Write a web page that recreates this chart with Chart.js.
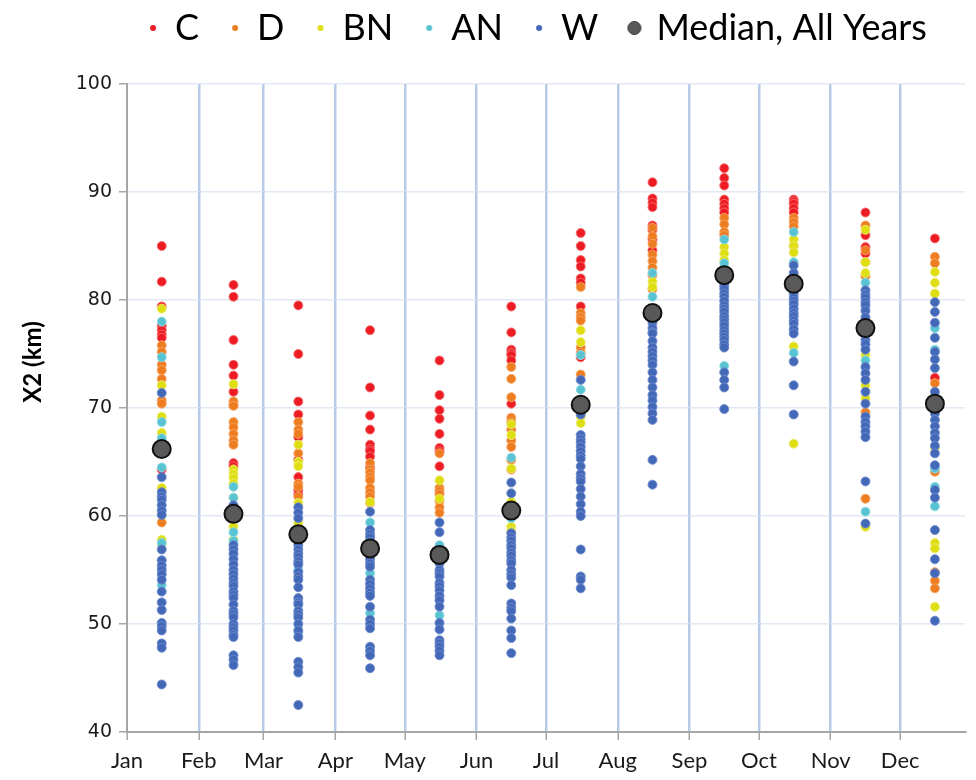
<!DOCTYPE html>
<html>
<head>
<meta charset="utf-8">
<script src="https://cdn.jsdelivr.net/npm/chart.js@4.4.1/dist/chart.umd.min.js"></script>
<style>
  html, body { margin: 0; padding: 0; background: #ffffff; }
  #wrap { width: 976px; height: 780px; position: relative; }
</style>
</head>
<body>
<div id="wrap"><canvas id="x2Chart"></canvas></div>
<script>
// Month ticks (day of year where each month starts) and mid-month positions of the point columns
const monthNames = ['Jan', 'Feb', 'Mar', 'Apr', 'May', 'Jun', 'Jul', 'Aug', 'Sep', 'Oct', 'Nov', 'Dec'];
const monthStarts = [0, 31, 59, 90, 120, 151, 181, 212, 243, 273, 304, 334];
const monthMids = [15, 46, 74, 105, 135, 166, 196, 227, 258, 288, 319, 349];

// X2 (km) values per month, one list per water year type
const critical = [
    [85.0, 81.7, 79.4, 77.6, 77.2, 76.8, 76.5, 64.3],
    [81.4, 80.3, 76.3, 74.0, 73.0, 71.5, 70.3, 64.9, 64.6],
    [79.5, 75.0, 70.6, 69.4, 67.3, 65.2, 63.6, 62.4, 62.0],
    [77.2, 71.9, 69.3, 68.0, 66.6, 66.2, 66.0, 65.5, 64.5],
    [74.4, 71.2, 69.8, 69.0, 67.6, 66.3, 66.0, 64.6],
    [79.4, 77.0, 75.4, 75.1, 74.9, 74.4, 70.4],
    [86.2, 85.0, 83.7, 83.1, 82.0, 81.6, 79.4, 74.7],
    [90.9, 89.4, 89.0, 88.6, 86.9, 86.5, 85.6, 84.6],
    [92.2, 91.3, 90.6, 89.3, 88.9, 88.5, 88.1],
    [89.3, 89.1, 88.9, 88.5, 88.1],
    [88.1, 86.0, 84.9, 84.3],
    [85.7, 72.8]
];
const dry = [
    [75.8, 75.2, 74.0, 73.5, 72.7, 70.7, 70.4, 59.4],
    [70.6, 70.2, 68.7, 68.2, 67.6, 67.0, 66.6],
    [68.7, 68.0, 67.6, 65.8, 63.0, 62.7, 61.8],
    [64.9, 64.3, 64.0, 63.6, 63.3, 62.6, 62.2, 61.8, 61.2],
    [65.8, 62.6, 62.3, 62.0, 61.4, 60.8, 60.3],
    [73.8, 72.7, 71.0, 69.1, 68.7, 68.0, 67.0, 66.4, 65.2, 64.3],
    [81.2, 78.8, 78.4, 78.1, 75.6, 75.1, 73.1],
    [86.7, 85.9, 85.2, 84.2, 83.6, 83.0, 82.3, 81.0],
    [87.6, 87.0, 86.3, 86.0],
    [87.6, 87.2, 86.8, 85.0],
    [86.9, 84.6, 83.5, 82.2, 69.6, 61.6],
    [84.0, 83.4, 72.3, 64.1, 54.8, 54.0, 53.3]
];
const belowNormal = [
    [79.2, 72.1, 69.2, 67.7, 62.6, 57.8, 57.4],
    [72.2, 64.3, 63.9, 63.5, 63.0, 61.7, 59.0, 57.8],
    [66.6, 65.0, 64.6, 61.2, 59.4],
    [61.3],
    [63.3, 61.6],
    [68.5, 67.5, 64.4, 61.3, 59.0, 58.6],
    [77.2, 76.1, 69.2, 68.6],
    [81.7, 81.2],
    [84.9, 84.3, 83.7],
    [85.6, 85.0, 84.4, 75.7, 66.7],
    [86.5, 83.5, 82.5, 74.9, 72.1, 70.9, 59.0],
    [82.6, 81.6, 80.6, 66.3, 57.5, 57.0, 51.6]
];
const aboveNormal = [
    [78.0, 74.7, 68.7, 67.2, 64.5, 57.5, 53.6],
    [62.7, 61.7, 58.5, 57.7],
    [55.6, 55.0, 49.2],
    [59.4, 54.7, 51.0],
    [57.3, 50.8],
    [65.4, 59.8],
    [74.9, 71.7],
    [82.5, 80.3],
    [85.6, 83.4, 73.9],
    [86.3, 83.5, 75.1],
    [81.6, 74.4, 60.4],
    [77.4, 75.4, 64.4, 62.7, 60.9]
];
const wet = [
    [71.4, 63.6, 62.2, 61.8, 61.5, 61.0, 60.5, 60.1, 56.9, 55.9, 55.4, 55.0, 54.6, 54.1, 53.0, 52.0, 51.3, 50.1, 49.8, 49.4, 48.2, 47.8, 44.4],
    [61.0, 57.3, 56.9, 56.5, 56.0, 55.5, 55.0, 54.6, 54.2, 53.8, 53.5, 53.0, 52.7, 52.4, 51.8, 51.2, 50.9, 50.6, 50.0, 49.7, 49.4, 49.0, 48.8, 47.1, 46.7, 46.2],
    [60.8, 60.3, 59.8, 57.3, 56.9, 56.5, 56.2, 55.8, 55.5, 54.8, 54.4, 54.1, 53.4, 52.4, 52.0, 51.8, 51.2, 50.9, 50.6, 50.0, 49.4, 48.8, 46.5, 46.0, 45.5, 42.5],
    [60.4, 58.7, 58.3, 58.0, 57.6, 57.3, 56.6, 56.0, 55.6, 55.3, 54.1, 53.7, 53.3, 52.9, 52.6, 51.6, 50.4, 50.0, 49.6, 47.9, 47.5, 47.1, 45.9],
    [59.4, 58.5, 56.0, 55.6, 55.0, 54.7, 54.4, 53.8, 53.5, 53.1, 52.6, 52.2, 51.6, 50.1, 49.5, 48.5, 48.2, 47.9, 47.5, 47.1],
    [63.1, 62.1, 58.4, 58.0, 57.7, 57.3, 57.0, 56.6, 56.3, 55.9, 55.6, 55.0, 54.6, 54.3, 53.6, 51.9, 51.5, 51.2, 50.5, 49.4, 48.7, 47.3],
    [72.6, 69.4, 67.5, 67.1, 66.8, 66.4, 66.0, 65.6, 65.3, 64.6, 63.9, 63.5, 63.2, 62.5, 61.8, 61.1, 60.4, 60.0, 56.9, 54.4, 54.1, 53.3],
    [77.9, 77.4, 77.0, 76.9, 76.2, 75.6, 75.2, 74.8, 74.4, 74.0, 73.3, 72.6, 71.9, 71.2, 70.7, 70.1, 69.5, 68.9, 65.2, 62.9],
    [81.6, 81.3, 81.0, 80.6, 80.3, 79.9, 79.5, 79.2, 78.9, 78.5, 78.2, 77.9, 77.6, 77.2, 76.9, 76.6, 76.3, 75.9, 75.6, 73.3, 72.6, 71.9, 69.9],
    [83.2, 82.5, 80.6, 80.2, 79.9, 79.6, 79.2, 78.8, 78.5, 78.1, 77.8, 77.3, 76.9, 74.3, 72.1, 69.4],
    [80.9, 80.5, 80.2, 79.8, 79.5, 79.0, 78.4, 76.3, 75.9, 75.4, 73.8, 73.2, 72.6, 71.5, 70.4, 69.2, 68.7, 68.3, 67.8, 67.3, 63.2, 59.3],
    [79.8, 78.9, 77.9, 76.5, 75.2, 74.5, 73.7, 71.5, 69.5, 68.9, 68.3, 67.7, 67.2, 66.5, 65.8, 64.7, 62.4, 61.7, 58.7, 56.0, 54.7, 50.3]
];
const medianAllYears = [66.2, 60.2, 58.3, 57.0, 56.4, 60.5, 70.3, 78.8, 82.3, 81.5, 77.4, 70.4];

const yTitle = 'X2 (km)';

// Flatten month lists into scatter points at the month's mid position
function toPoints(byMonth) {
    const pts = [];
    byMonth.forEach((vals, m) => {
        vals.forEach(v => pts.push({ x: monthMids[m], y: v }));
    });
    return pts;
}

const seriesDefs = [
    { label: 'C', values: critical, fill: '#ed1c24', edge: 'rgba(244,110,110,0.9)' },
    { label: 'D', values: dry, fill: '#ee7d22', edge: 'rgba(246,165,100,0.9)' },
    { label: 'BN', values: belowNormal, fill: '#dede12', edge: 'rgba(236,236,120,0.9)' },
    { label: 'AN', values: aboveNormal, fill: '#58c3d2', edge: 'rgba(150,220,228,0.9)' },
    { label: 'W', values: wet, fill: '#4468b8', edge: 'rgba(110,140,205,0.9)' }
];

const datasets = seriesDefs.map((s, i) => ({
    label: s.label,
    data: toPoints(s.values),
    backgroundColor: s.fill,
    borderColor: s.edge,
    borderWidth: 1,
    pointRadius: 4.5,
    pointHoverRadius: 4.5,
    order: seriesDefs.length - i   // later series drawn on top
}));
datasets.push({
    label: 'Median, All Years',
    data: medianAllYears.map((v, m) => ({ x: monthMids[m], y: v })),
    backgroundColor: '#595959',
    borderColor: '#111111',
    borderWidth: 2,
    pointRadius: 9,
    pointHoverRadius: 9,
    order: 0
});

// little round markers for the legend
function dotCanvas(r, fill, stroke, lw) {
    const c = document.createElement('canvas');
    const s = Math.ceil(2 * r + lw + 2);
    c.width = s;
    c.height = s;
    const g = c.getContext('2d');
    g.beginPath();
    g.arc(s / 2, s / 2, r, 0, Math.PI * 2);
    g.fillStyle = fill;
    g.fill();
    if (lw) {
        g.lineWidth = lw;
        g.strokeStyle = stroke;
        g.stroke();
    }
    return c;
}
const legendDots = seriesDefs.map(s => dotCanvas(3, s.fill, null, 0));
legendDots.push(dotCanvas(6.5, '#595959', '#3a3a3a', 1));

// Legend: fixed height and nudged into place
const legendPlacePlugin = {
    id: 'legendPlace',
    beforeInit(chart) {
        const legend = chart.legend;
        const originalFit = legend.fit;
        legend.fit = function fit() {
            originalFit.bind(legend)();
            this.height = 84;
        };
        const originalDraw = legend.draw;
        legend.draw = function draw() {
            const ctx = chart.ctx;
            ctx.save();
            ctx.translate(50, -22);
            originalDraw.apply(legend, arguments);
            ctx.restore();
        };
    }
};

// Y axis title, placed a bit above the plot centre like the original
const axisTitlePlugin = {
    id: 'axisTitle',
    afterDraw(chart) {
        const ctx = chart.ctx;
        ctx.save();
        ctx.translate(33, 362);
        ctx.rotate(-Math.PI / 2);
        ctx.font = 'bold 24px Lato';
        ctx.textAlign = 'center';
        ctx.textBaseline = 'middle';
        ctx.fillStyle = '#000000';
        ctx.fillText(yTitle, 0, 0);
        ctx.restore();
    }
};

const chart = new Chart(document.getElementById('x2Chart'), {
    type: 'scatter',
    data: { datasets: datasets },
    options: {
        responsive: true,
        maintainAspectRatio: false,
        animation: false,
        events: [],
        layout: { padding: 0 },
        plugins: {
            tooltip: { enabled: false },
            legend: {
                position: 'top',
                align: 'center',
                labels: {
                    usePointStyle: true,
                    boxWidth: 8,
                    boxHeight: 8,
                    padding: 32,
                    color: '#000000',
                    font: { family: 'Lato', size: 36 },
                    generateLabels(c) {
                        const items = Chart.defaults.plugins.legend.labels.generateLabels(c);
                        items.sort((a, b) => a.datasetIndex - b.datasetIndex);
                        items.forEach(it => { it.pointStyle = legendDots[it.datasetIndex]; });
                        return items;
                    }
                }
            }
        },
        scales: {
            x: {
                type: 'linear',
                min: 0,
                max: 362,
                afterBuildTicks(scale) {
                    scale.ticks = monthStarts.map(v => ({ value: v }));
                },
                afterFit(scale) { scale.height = 48; },
                ticks: {
                    autoSkip: false,
                    maxRotation: 0,
                    padding: 8,
                    color: '#1a1a1a',
                    font: { family: 'Lato', size: 22 },
                    callback(value, index) { return monthNames[index]; }
                },
                grid: {
                    color: ctx => (ctx.tick && ctx.tick.value === 0) ? 'rgba(0,0,0,0)' : 'rgba(176,196,230,0.9)',
                    lineWidth: 2.5,
                    tickLength: 8,
                    tickColor: '#a6a6a6',
                    tickWidth: 1.5
                },
                border: { color: '#a6a6a6', width: 2 }
            },
            y: {
                min: 40,
                max: 100,
                afterFit(scale) { scale.width = 127; },
                ticks: {
                    stepSize: 10,
                    padding: 7,
                    color: '#1a1a1a',
                    font: { family: 'DejaVu Sans', size: 19 }
                },
                grid: {
                    color: 'rgba(214,224,240,0.7)',
                    lineWidth: 1.5,
                    tickLength: 8,
                    tickColor: '#a6a6a6',
                    tickWidth: 1.5
                },
                border: { color: '#a6a6a6', width: 2 }
            }
        }
    },
    plugins: [legendPlacePlugin, axisTitlePlugin]
});
</script>
</body>
</html>
